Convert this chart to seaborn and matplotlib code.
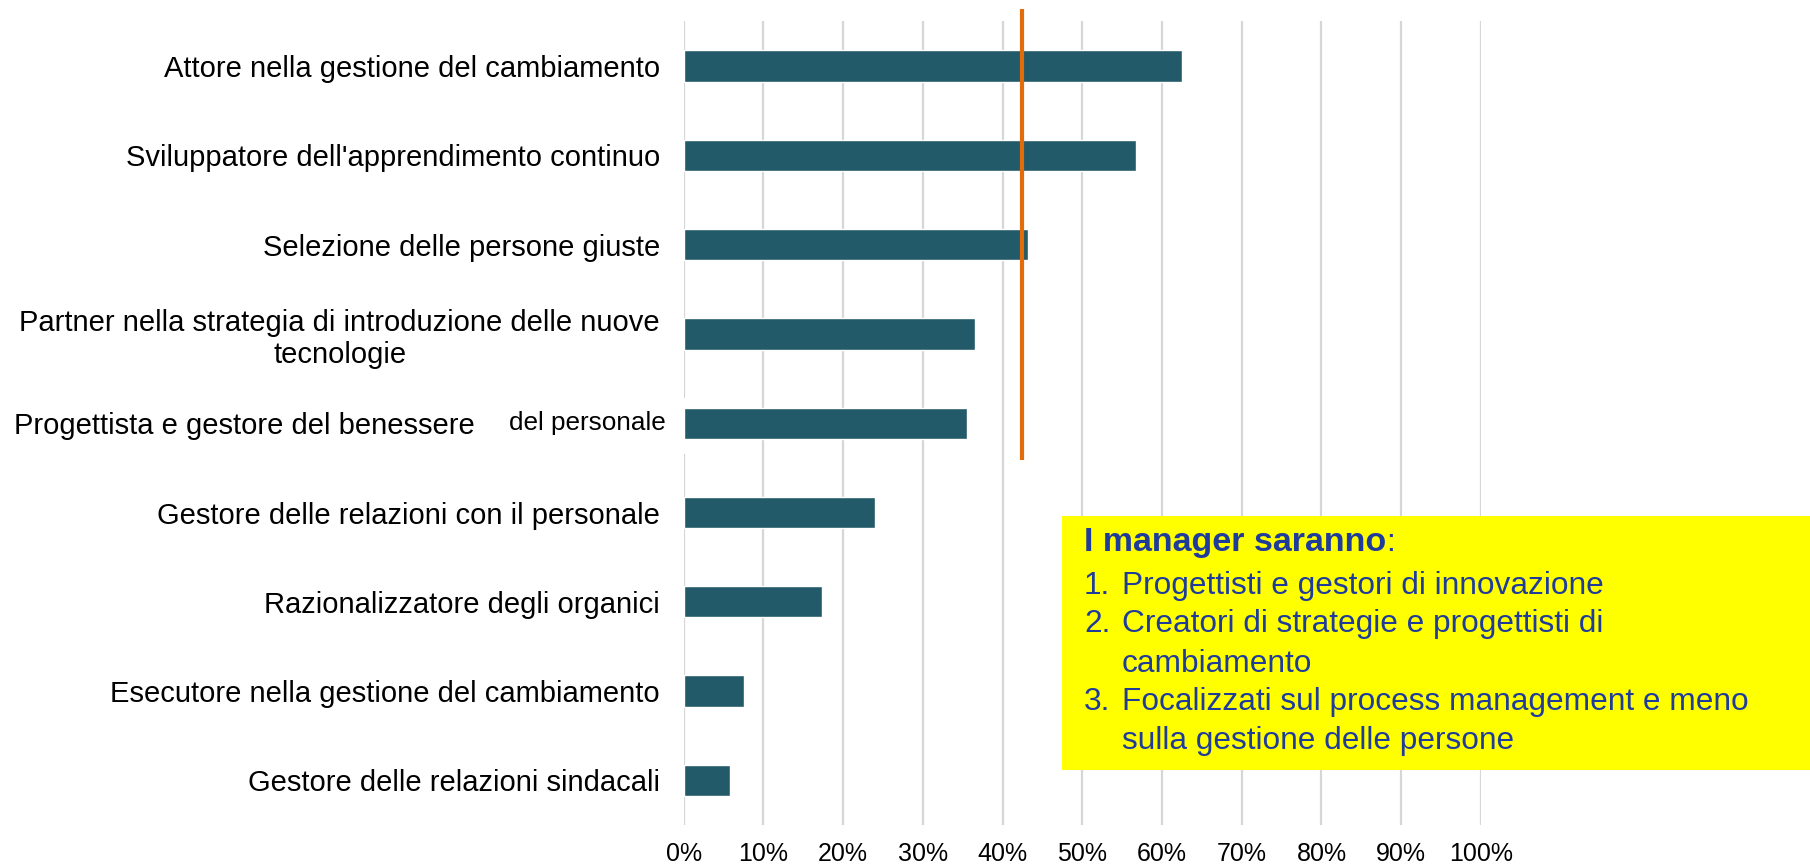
import matplotlib
matplotlib.use("Agg")
import matplotlib.pyplot as plt
import matplotlib.transforms as mtransforms
import seaborn as sns
import pandas as pd
from matplotlib.patches import Rectangle
from matplotlib.ticker import PercentFormatter

categories = [
    "Attore nella gestione del cambiamento",
    "Sviluppatore dell'apprendimento continuo",
    "Selezione delle persone giuste",
    "Partner nella strategia di introduzione delle nuove\ntecnologie",
    "Progettista e gestore del benessere del personale",
    "Gestore delle relazioni con il personale",
    "Razionalizzatore degli organici",
    "Esecutore nella gestione del cambiamento",
    "Gestore delle relazioni sindacali",
]
values = [0.625, 0.567, 0.432, 0.365, 0.355, 0.240, 0.173, 0.076, 0.058]
average = 0.424
xticks = [0, 0.1, 0.2, 0.3, 0.4, 0.5, 0.6, 0.7, 0.8, 0.9, 1.0]
box_title = "I manager saranno"
box_numbers = ["1.", "2.", "", "3.", ""]
box_lines = [
    "Progettisti e gestori di innovazione",
    "Creatori di strategie e progettisti di",
    "cambiamento",
    "Focalizzati sul process management e meno",
    "sulla gestione delle persone",
]

sns.set_theme(style="white")
plt.rcParams["font.family"] = ["Liberation Sans", "DejaVu Sans"]

df = pd.DataFrame({"cat": categories, "val": values})

fig = plt.figure(figsize=(18.10, 8.66), dpi=100)
ax = fig.add_axes([0.3777, 0.0473, 0.4405, 0.928])

sns.barplot(data=df, x="val", y="cat", orient="h", color="#235a69",
            saturation=1, width=0.35, ax=ax, zorder=3)

ax.set_xlim(0, 1.0)
ax.set_ylim(8.5, -0.5)
ax.set_xticks(xticks)
ax.xaxis.set_major_formatter(PercentFormatter(1.0, decimals=0))
ax.grid(axis="x", color="#d6d6d6", linewidth=1.6, zorder=0)
ax.grid(axis="y", visible=False)
for s in ax.spines.values():
    s.set_visible(False)
ax.set_xlabel("")
ax.set_ylabel("")
ax.tick_params(axis="x", length=0, pad=12, labelsize=18, labelcolor="black")
ax.tick_params(axis="y", length=0, pad=17, labelsize=21, labelcolor="black")

# special label for benessere row
ax.set_yticks(range(len(categories)))
ax.set_yticklabels([c if i != 4 else "Progettista e gestore del benessere"
                    for i, c in enumerate(categories)])
for lab in ax.get_yticklabels():
    lab.set_multialignment("center")
tl = ax.get_yticklabels()[4]
tl.set_transform(tl.get_transform() + mtransforms.ScaledTranslation(-1.85, 0, fig.dpi_scale_trans))
ax.text(-0.022, 4, "del personale", transform=ax.get_yaxis_transform(),
        ha="right", va="center", fontsize=18.8, color="black")

# white gap over 0% gridline near benessere row
ax.add_patch(Rectangle((-0.012, 3.72), 0.018, 0.62, transform=ax.transData,
                       facecolor="white", edgecolor="none", zorder=2, clip_on=False))

# average line
ax.axvline(average, ymin=0.454, ymax=1.015, color="#e36c0a", linewidth=3,
           zorder=4, clip_on=False, solid_capstyle="butt")

# yellow box
fig.patches.append(Rectangle((1062 / 1810, 1 - 770 / 866), (1810 - 1062) / 1810, (770 - 516) / 866,
                             transform=fig.transFigure, facecolor="#ffff00",
                             edgecolor="none", zorder=5))
blue = "#1f3c9b"
fs = 22.8
t = fig.text(1084 / 1810, 1 - 543 / 866, box_title, fontsize=24.5, fontweight="bold",
             color=blue, va="center", ha="left", zorder=6)
fig.canvas.draw()
bb = t.get_window_extent()
fig.text(bb.x1 / 1810, 1 - 543 / 866, ":", fontsize=fs, color=blue, va="center",
         ha="left", zorder=6)
ys = [586, 624, 664, 702, 741]
for num, line, y in zip(box_numbers, box_lines, ys):
    if num:
        fig.text(1084 / 1810, 1 - y / 866, num, fontsize=fs, color=blue,
                 va="center", ha="left", zorder=6)
    fig.text(1122 / 1810, 1 - y / 866, line, fontsize=fs, color=blue,
             va="center", ha="left", zorder=6)

fig.savefig("out.png", dpi=100)
